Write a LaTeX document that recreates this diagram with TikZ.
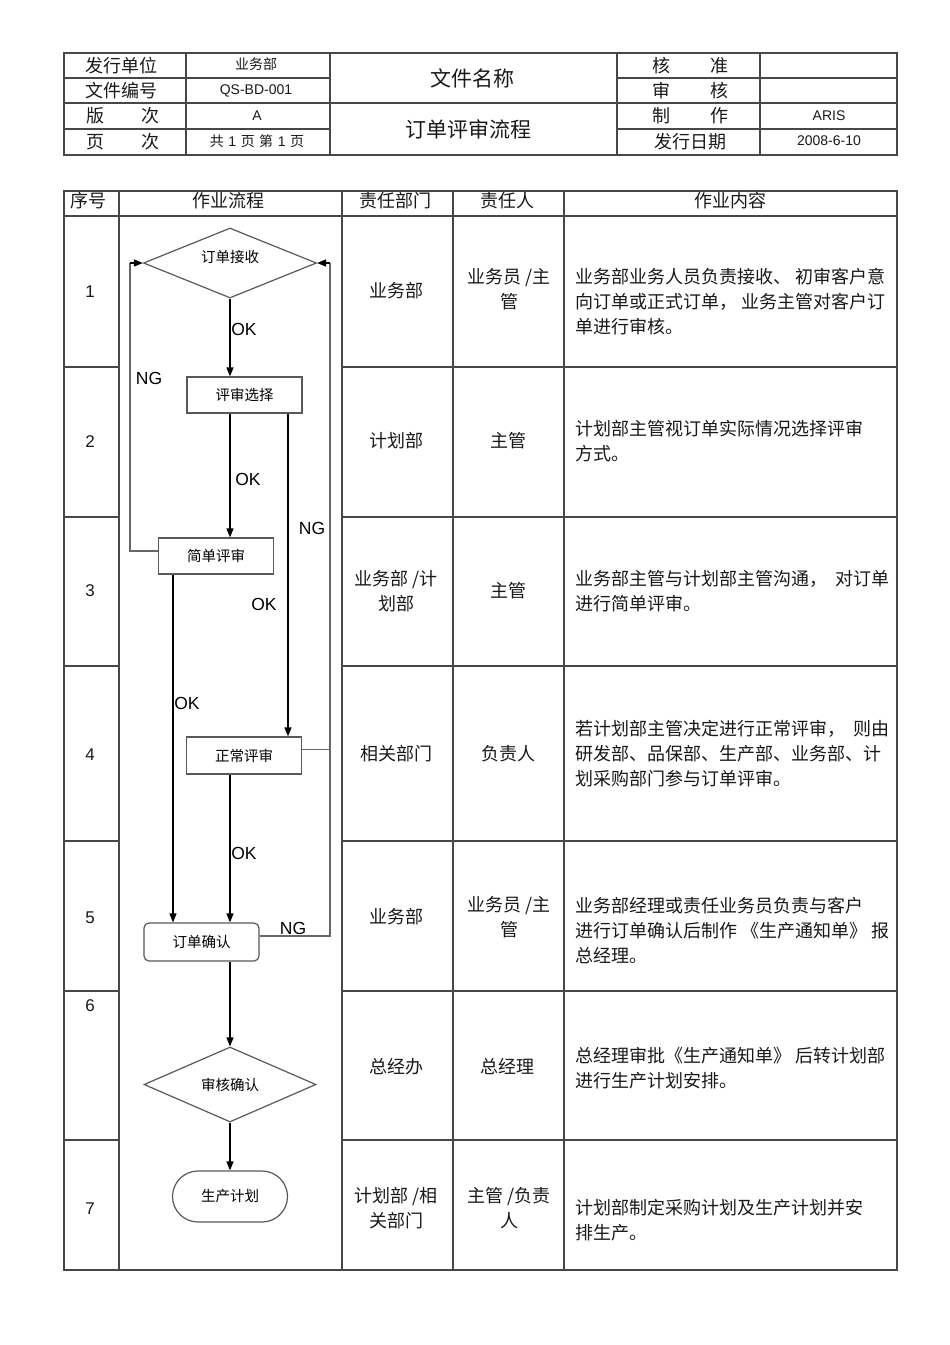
\documentclass[tikz,border=0pt]{standalone}
\usepackage{fontspec}
\setmainfont{Liberation Sans}
\newfontfamily\cjk{Noto Sans CJK SC}
\usetikzlibrary{arrows.meta,shapes.geometric,shapes.misc}
\begin{document}
\begin{tikzpicture}[x=1pt,y=-1pt,
  grid/.style={draw=black!72,line width=1.2pt},
  tx/.style={inner sep=0pt,font=\cjk\fontsize{18}{25}\selectfont,align=center,text=black!90},
  txs/.style={inner sep=0pt,font=\cjk\fontsize{14}{16}\selectfont,text=black!90},
  lat/.style={inner sep=0pt,font=\fontsize{14}{16}\selectfont,text=black!90},
  num/.style={inner sep=0pt,font=\fontsize{17}{20}\selectfont,text=black!90},
  body/.style={inner sep=0pt,font=\cjk\fontsize{18}{25}\selectfont,align=left,anchor=west,text=black!90},
  ttl/.style={inner sep=0pt,font=\cjk\fontsize{21}{24}\selectfont,text=black!90},
  box/.style={draw=black!65,line width=1.2pt,minimum width=115pt,minimum height=36pt,inner sep=0pt,font=\cjk\fontsize{14.5}{16}\selectfont},
  dia/.style={diamond,draw=black!65,line width=1.2pt,inner sep=0pt,font=\cjk\fontsize{14.5}{16}\selectfont},
  arr/.style={-{Triangle[length=9pt,width=7pt]},line width=1.3pt,black},
  ngl/.style={line width=1.2pt,black!60},
  lab/.style={inner sep=0pt,font=\fontsize{17.5}{20}\selectfont}]
\useasboundingbox[fill=white] (0,0) rectangle (950,1345);

% ---------- header table ----------
\draw[grid] (64,53) rectangle (897,155);
\draw[grid] (64,103) -- (897,103);
\draw[grid] (64,78) -- (330,78) (617,78) -- (897,78);
\draw[grid] (64,129) -- (330,129) (617,129) -- (897,129);
\foreach \x in {186,330,617,760} \draw[grid] (\x,53) -- (\x,155);

\node[tx] (h11) at (121,65.5) {发行单位};
\node[tx] (h21) at (121,90.5) {文件编号};
\node[tx] (h31) at (123,116) {版\hspace{38pt}次};
\node[tx] (h41) at (123,141.5) {页\hspace{38pt}次};
\node[txs] (h12) at (256,64.5) {业务部};
\node[lat] (h22) at (256,90.5) {QS-BD-001};
\node[lat] (h32) at (257,116) {A};
\node[txs] (h42) at (257,141) {共\hspace{4.5pt}{\rmfamily 1}\hspace{4.5pt}页\hspace{4.5pt}第\hspace{4.5pt}{\rmfamily 1}\hspace{4.5pt}页};
\node[ttl] (h13) at (472,78) {文件名称};
\node[ttl] (h33) at (468,129) {订单评审流程};
\node[tx] (h14) at (690,65.5) {核\hspace{40pt}准};
\node[tx] (h24) at (690,90.5) {审\hspace{40pt}核};
\node[tx] (h34) at (690,116) {制\hspace{40pt}作};
\node[tx] (h44) at (690,141.5) {发行日期};
\node[lat] (h35) at (829,116) {ARIS};
\node[lat] (h45) at (829,141) {2008-6-10};

% ---------- main table ----------
\draw[grid] (64,191) rectangle (897,1270);
\draw[grid] (64,216) -- (897,216);
\foreach \x in {119,342,453,564} \draw[grid] (\x,191) -- (\x,1270);
\foreach \y in {367,517,666,841,991,1140} \draw[grid] (64,\y) -- (119,\y) (342,\y) -- (897,\y);

\node[tx] (c1) at (88,200.5) {序号};
\node[tx] (c2) at (228,200.5) {作业流程};
\node[tx] (c3) at (395,200.5) {责任部门};
\node[tx] (c4) at (507,200.5) {责任人};
\node[tx] (c5) at (730,200.5) {作业内容};

\node[num] (n1) at (90,292) {1};
\node[num] (n2) at (90,442) {2};
\node[num] (n3) at (90,591) {3};
\node[num] (n4) at (90,755) {4};
\node[num] (n5) at (90,918) {5};
\node[num] (n6) at (90,1006) {6};
\node[num] (n7) at (90,1209) {7};

\node[tx] (d1) at (396,291) {业务部};
\node[tx] (d2) at (396,441) {计划部};
\node[tx] (d3) at (396,591) {业务部 /计\\划部};
\node[tx] (d4) at (396,754) {相关部门};
\node[tx] (d5) at (396,917) {业务部};
\node[tx] (d6) at (396,1067) {总经办};
\node[tx] (d7) at (396,1208) {计划部 /相\\关部门};

\node[tx] (p1) at (509,289.5) {业务员 /主\\管};
\node[tx] (p2) at (508,441) {主管};
\node[tx] (p3) at (508,591) {主管};
\node[tx] (p4) at (508,754) {负责人};
\node[tx] (p5) at (509,917.5) {业务员 /主\\管};
\node[tx] (p6) at (507,1067) {总经理};
\node[tx] (p7) at (509,1208) {主管 /负责\\人};

\node[body] (w1) at (575,302) {业务部业务人员负责接收、 初审客户意\\向订单或正式订单， 业务主管对客户订\\单进行审核。};
\node[body] (w2) at (575,441) {计划部主管视订单实际情况选择评审\\方式。};
\node[body] (w3) at (575,591) {业务部主管与计划部主管沟通，\hspace{8pt}对订单\\进行简单评审。};
\node[body] (w4) at (575,754) {若计划部主管决定进行正常评审，\hspace{8pt}则由\\研发部、品保部、生产部、业务部、计\\划采购部门参与订单评审。};
\node[body] (w5) at (575,930) {业务部经理或责任业务员负责与客户\\进行订单确认后制作 《生产通知单》 报\\总经理。};
\node[body] (w6) at (575,1068) {总经理审批《生产通知单》 后转计划部\\进行生产计划安排。};
\node[body] (w7) at (575,1220) {计划部制定采购计划及生产计划并安\\排生产。};

% ---------- flow chart ----------
\node[dia,minimum width=173pt,minimum height=70pt,text height=0pt,text depth=1.4pt] (f1) at (230,263) {订单接收};
\node[box] (f2) at (244.5,395) {评审选择};
\node[box] (f3) at (216,556) {简单评审};
\node[box,minimum height=37pt] (f4) at (244,755.5) {正常评审};
\node[box,rounded corners=5pt,minimum height=38pt] (f5) at (201.5,942) {订单确认};
\node[dia,minimum width=172pt,minimum height=75pt] (f6) at (230,1084.5) {审核确认};
\node[rounded rectangle,draw=black!65,line width=1.2pt,minimum width=115pt,minimum height=51pt,inner sep=0pt,font=\cjk\fontsize{14.5}{16}\selectfont] (f7) at (230,1196.5) {生产计划};

\coordinate (nl) at (130,263);
\coordinate (nr) at (330,263);

% OK arrows
\draw[arr] (f1.south) -- (f1.south |- f2.north);
\draw[arr] (f1.south |- f2.south) -- (f1.south |- f3.north);
\draw[arr] ([xshift=43.5pt]f2.south) -- ([xshift=43.5pt]f2.south |- f4.north);
\draw[arr] ([xshift=-43pt]f3.south) -- ([xshift=-43pt]f3.south |- f5.north);
\draw[arr] (f1.south |- f4.south) -- (f1.south |- f5.north);
\draw[arr] (f1.south |- f5.south) -- (f6.north);
\draw[arr] (f6.south) -- (f7.north);

% NG return lines
\draw[ngl] ([yshift=5pt]f3.west) -- ([yshift=5pt]f3.west -| nl) -- (nl);
\draw[arr] (nl) -- (f1.west);
\draw[ngl] ([yshift=6pt]f5.east) -- ([yshift=6pt]f5.east -| nr) -- (nr);
\draw[ngl] ([yshift=6pt]f4.east) -- ([yshift=6pt]f4.east -| nr);
\draw[arr] (nr) -- (f1.east);

% labels
\node[lab] (l1) at (244,329) {OK};
\node[lab] (l2) at (149,378) {NG};
\node[lab] (l3) at (248,479.5) {OK};
\node[lab] (l4) at (312,528) {NG};
\node[lab] (l5) at (264,604) {OK};
\node[lab] (l6) at (187,703) {OK};
\node[lab] (l7) at (244,853) {OK};
\node[lab] (l8) at (293,928) {NG};
\end{tikzpicture}
\end{document}
